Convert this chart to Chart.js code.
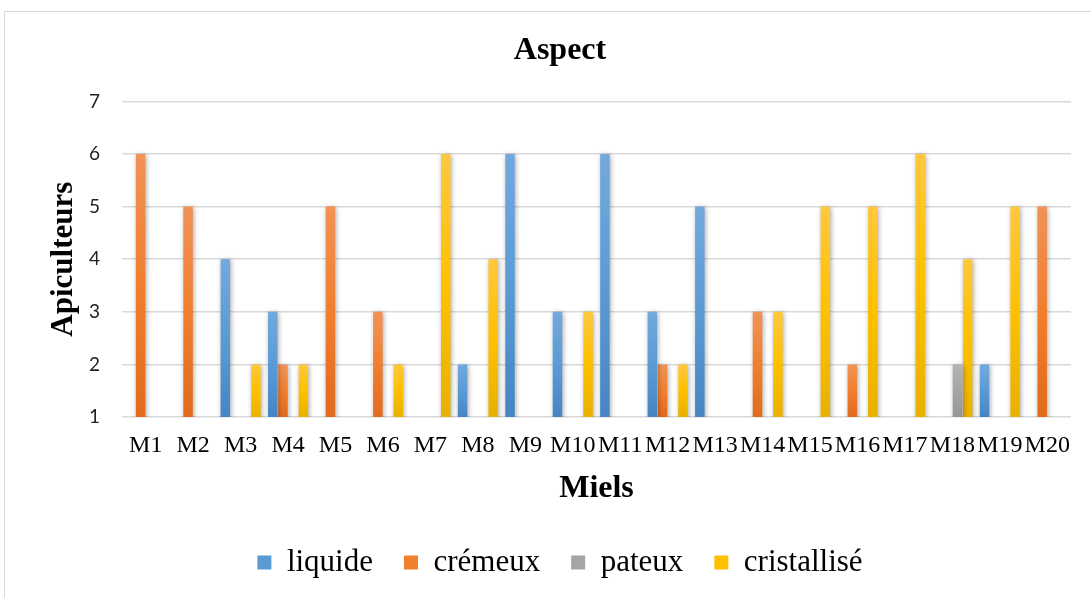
<!DOCTYPE html>
<html>
<head>
<meta charset="utf-8">
<script src="https://cdn.jsdelivr.net/npm/chart.js@4.4.1/dist/chart.umd.min.js"></script>
<style>
  html, body { margin: 0; padding: 0; background: #fff; overflow: hidden; }
  #frame { position: absolute; left: 4px; top: 11px; width: 1200px; height: 700px; border: 1px solid #d9d9d9; box-sizing: border-box; }
  #c { position: absolute; left: 0; top: 0; }
</style>
</head>
<body>
<div id="frame"></div>
<canvas id="c" width="1091" height="598"></canvas>
<script>
const categories = ['M1','M2','M3','M4','M5','M6','M7','M8','M9','M10','M11','M12','M13','M14','M15','M16','M17','M18','M19','M20'];
const liquide     = [null,null,4,3,null,null,null,2,6,3,6,3,5,null,null,null,null,null,2,null];
const cremeux     = [6,5,null,2,5,3,null,null,null,null,null,2,null,3,null,2,null,null,null,5];
const pateux      = [null,null,null,null,null,null,null,null,null,null,null,null,null,null,null,null,null,2,null,null];
const cristallise = [null,null,2,2,null,2,6,4,null,3,null,2,null,3,5,5,6,4,5,null];
const seriesNames = ['liquide','crémeux','pateux','cristallisé'];
const yTicks = [1,2,3,4,5,6,7];

const palettes = [
  {top:'#72a9de', mid:'#5b9bd5', bot:'#4585c4'},
  {top:'#f29257', mid:'#f07f2e', bot:'#e26a1c'},
  {top:'#b4b4b4', mid:'#a5a5a5', bot:'#969696'},
  {top:'#ffc83d', mid:'#ffc000', bot:'#e8b100'}
];

function gradFor(p) {
  return function(ctx) {
    const chart = ctx.chart;
    if (ctx.raw === undefined || ctx.raw === null || !chart.chartArea || !chart.scales.y) return p.mid;
    const y = chart.scales.y;
    const yTop = y.getPixelForValue(ctx.raw);
    const yBot = y.getPixelForValue(y.min);
    if (!isFinite(yTop) || !isFinite(yBot) || yTop === yBot) return p.mid;
    const g = chart.ctx.createLinearGradient(0, yTop, 0, yBot);
    g.addColorStop(0, p.top);
    g.addColorStop(0.5, p.mid);
    g.addColorStop(1, p.bot);
    return g;
  };
}

const shadowPlugin = {
  id: 'barShadow',
  beforeDatasetsDraw(chart) {
    const c = chart.ctx;
    c.save();
    c.shadowColor = 'rgba(0,0,0,0.35)';
    c.shadowBlur = 5;
    c.shadowOffsetX = 1;
    c.shadowOffsetY = 1;
  },
  afterDatasetsDraw(chart) {
    chart.ctx.restore();
  }
};

const seriesData = [liquide, cremeux, pateux, cristallise];

new Chart(document.getElementById('c'), {
  type: 'bar',
  data: {
    labels: categories,
    datasets: seriesData.map((d, i) => ({
      label: seriesNames[i],
      data: d,
      backgroundColor: gradFor(palettes[i]),
      borderWidth: 0,
      categoryPercentage: 0.86,
      barPercentage: 0.93
    }))
  },
  options: {
    responsive: false,
    devicePixelRatio: 1,
    animation: false,
    events: [],
    layout: { padding: { left: 49, right: 20, top: 0, bottom: 10 } },
    plugins: {
      title: {
        display: true,
        text: 'Aspect',
        color: '#000',
        font: { family: 'Liberation Serif', size: 32, weight: 'bold', lineHeight: 1.2 },
        padding: { top: 32, bottom: 31 }
      },
      legend: {
        display: true,
        position: 'bottom',
        labels: {
          color: '#000',
          font: { family: 'Liberation Serif', size: 31 },
          boxWidth: 14,
          boxHeight: 14,
          padding: 31,
          generateLabels(chart) {
            return chart.data.datasets.map((ds, i) => ({
              text: ds.label,
              fillStyle: palettes[i].mid,
              strokeStyle: palettes[i].mid,
              lineWidth: 0,
              hidden: false,
              datasetIndex: i,
              fontColor: '#000'
            }));
          }
        }
      },
      tooltip: { enabled: false }
    },
    scales: {
      x: {
        afterFit(scale) { scale.height = 99; },
        grid: { display: false, drawTicks: false },
        border: { display: false },
        ticks: {
          autoSkip: false,
          maxRotation: 0,
          minRotation: 0,
          padding: 14,
          color: '#000',
          font: { family: 'Liberation Serif', size: 24 }
        },
        title: {
          display: true,
          text: 'Miels',
          color: '#000',
          font: { family: 'Liberation Serif', size: 32, weight: 'bold', lineHeight: 1.2 },
          padding: { top: 0, bottom: 8 }
        }
      },
      y: {
        min: 1,
        max: 7,
        afterFit(scale) { scale.width = 73; },
        afterBuildTicks(scale) { scale.ticks = yTicks.map(v => ({ value: v })); },
        grid: { color: '#d9d9d9', lineWidth: 1.6, drawTicks: false },
        border: { display: false },
        ticks: {
          padding: 22,
          color: '#222',
          font: { family: 'Lato', size: 19 }
        },
        title: {
          display: true,
          text: 'Apiculteurs',
          color: '#000',
          font: { family: 'Liberation Serif', size: 31, weight: 'bold', lineHeight: 0.9 },
          padding: { top: 1, bottom: 0 }
        }
      }
    }
  },
  plugins: [shadowPlugin]
});
</script>
</body>
</html>
